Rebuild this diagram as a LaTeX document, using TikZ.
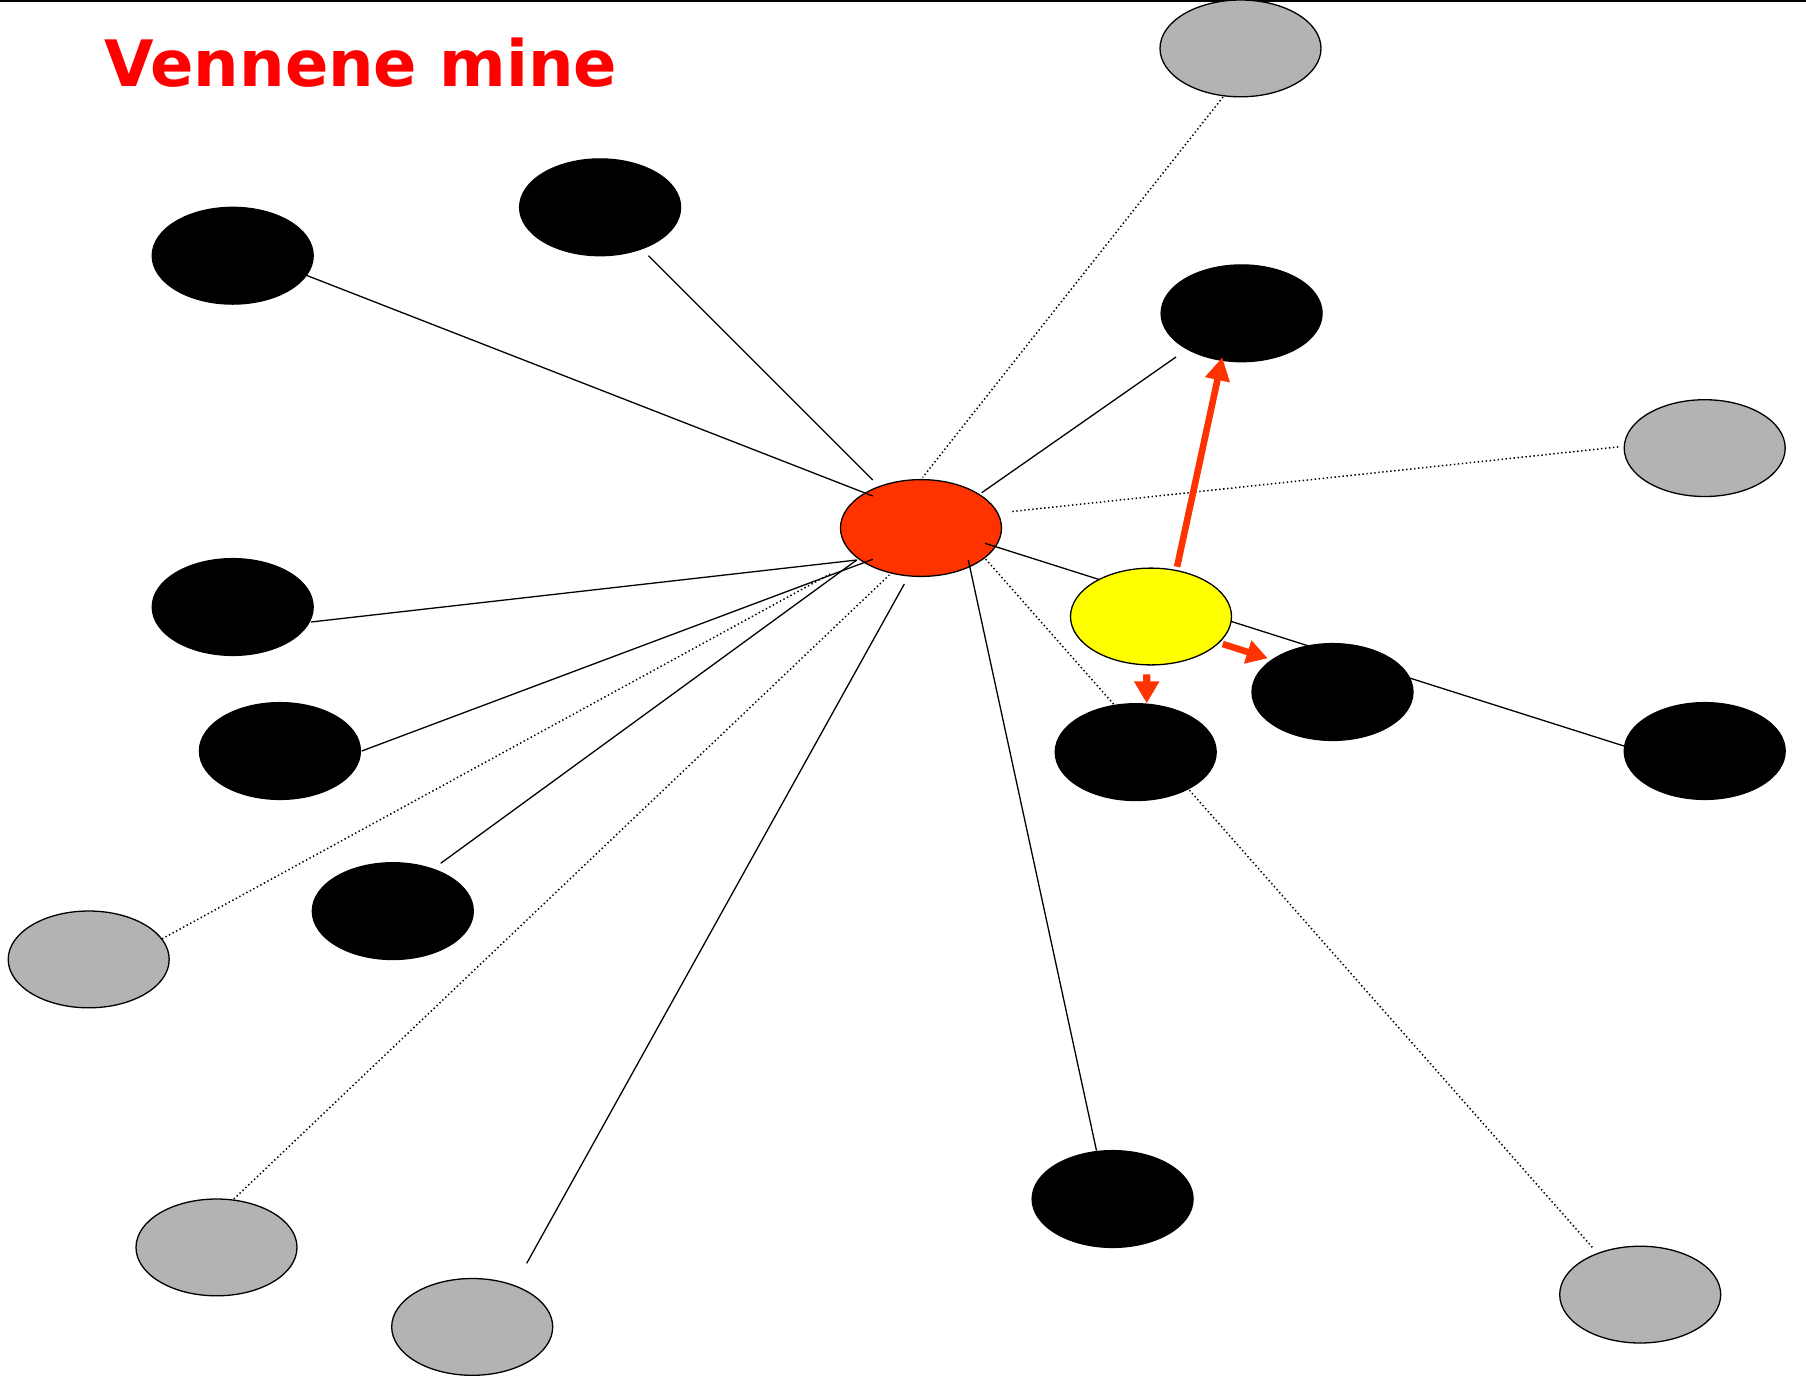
\documentclass[tikz,border=0pt]{standalone}
\usepackage{fontspec}
\newfontfamily\titlefont{DejaVu Sans}
\usetikzlibrary{shapes.geometric,arrows.meta,calc}
\definecolor{redorange}{HTML}{FF3300}
\definecolor{grayfill}{HTML}{B3B3B3}
\definecolor{titlered}{HTML}{FF0000}
\definecolor{yellowfill}{HTML}{FFFF00}
\pgfdeclarelayer{bottom}
\pgfdeclarelayer{wires}
\pgfsetlayers{bottom,wires,main}
\tikzset{
  oval/.style={ellipse, minimum width=80.5pt, minimum height=48.4pt, inner sep=0pt, line width=0.65pt, draw=black},
  blk/.style={oval, fill=black},
  gry/.style={oval, fill=grayfill},
  hub/.style={oval, fill=redorange},
  me/.style={oval, fill=yellowfill},
  solidline/.style={line width=0.65pt, black},
  dotline/.style={line width=0.75pt, black, dash pattern=on 0.7pt off 1.3pt},
  bigarrow/.style={redorange, line width=3.3pt, -{Triangle[length=11.5pt,width=12pt]}},
  smallarrow/.style={redorange, line width=3.3pt, -{Triangle[length=10.5pt,width=11.5pt]}}
}
\begin{document}
\begin{tikzpicture}[x=0.5pt,y=-0.5pt]
\useasboundingbox (0,0) rectangle (1806,1378);
\draw[line width=1pt] (0,1) -- (1806,1);
\node[anchor=base west, inner sep=0pt, text=titlered, font=\titlefont\bfseries\fontsize{32pt}{36pt}\selectfont] (title) at (104,86) {Vennene mine};

\begin{pgfonlayer}{bottom}
\node[hub] (R) at (921,528) {};
\end{pgfonlayer}

\node[blk] (A) at (232.7,255.7) {};
\node[blk] (B) at (600.1,207.3) {};
\node[gry] (GT) at (1240.5,48.4) {};
\node[blk] (C) at (1241.6,313.3) {};
\node[gry] (GR) at (1704.7,448.1) {};
\node[me] (Y) at (1151,616.5) {};
\node[blk] (D) at (232.7,607) {};
\node[blk] (E) at (279.9,751) {};
\node[blk] (F) at (1135.7,752.1) {};
\node[blk] (G) at (1332.5,692) {};
\node[blk] (H) at (1704.7,751) {};
\node[blk] (I) at (392.8,911.1) {};
\node[gry] (GL) at (88.7,959.4) {};
\node[blk] (J) at (1112.6,1199) {};
\node[gry] (GBL) at (216.5,1247.4) {};
\node[gry] (GB) at (472.2,1326.9) {};
\node[gry] (GBR) at (1640.2,1294.6) {};

\begin{pgfonlayer}{wires}
\draw[solidline] ($(A)+(73.7,19.6)$) -- ($(R)+(-48.3,-32)$);
\draw[solidline] ($(B)+(48.4,48.4)$) -- ($(R)+(-48.3,-48)$);
\draw[dotline] ($(GT)+(-17.5,48.6)$) -- ($(R)+(1.7,-50.7)$);
\draw[solidline] ($(C)+(-65.6,43.7)$) -- ($(R)+(60.7,-35.3)$);
\draw[dotline] ($(GR)+(-86.4,-1.2)$) -- ($(R)+(89,-16.3)$);
\draw[solidline] ($(R)+(64,15.3)$) -- ($(H)+(-79.5,-4.6)$);
\draw[solidline] ($(D)+(78.3,15)$) -- ($(R)+(-64.3,32)$);
\draw[solidline] ($(E)+(81.8,0)$) -- ($(R)+(-48.3,31.3)$);
\draw[solidline] ($(I)+(47.9,-47.8)$) -- ($(R)+(-64.3,32)$);
\draw[dotline] ($(GL)+(66.3,-16.7)$) -- ($(R)+(-91,46)$);
\draw[dotline] ($(GBL)+(17.3,-48.4)$) -- ($(R)+(-31.7,47)$);
\draw[solidline] ($(GB)+(54.5,-63.6)$) -- ($(R)+(-16.7,56)$);
\draw[solidline] ($(J)+(-16.1,-48.4)$) -- ($(R)+(47.3,32)$);
\draw[dotline] ($(GBR)+(-47.9,-47.3)$) -- ($(R)+(64,30.3)$);
\end{pgfonlayer}

\draw[bigarrow] ($(Y)+(26.1,-49.8)$) -- ($(C)+(-19.3,44)$);
\draw[smallarrow] ($(Y)+(71.7,27.5)$) -- ($(G)+(-64.8,-33.7)$);
\draw[smallarrow, line width=3.6pt, -{Triangle[length=11pt,width=12pt]}] ($(Y)+(-4.3,57.8)$) -- ($(F)+(11,-48.8)$);
\end{tikzpicture}
\end{document}
